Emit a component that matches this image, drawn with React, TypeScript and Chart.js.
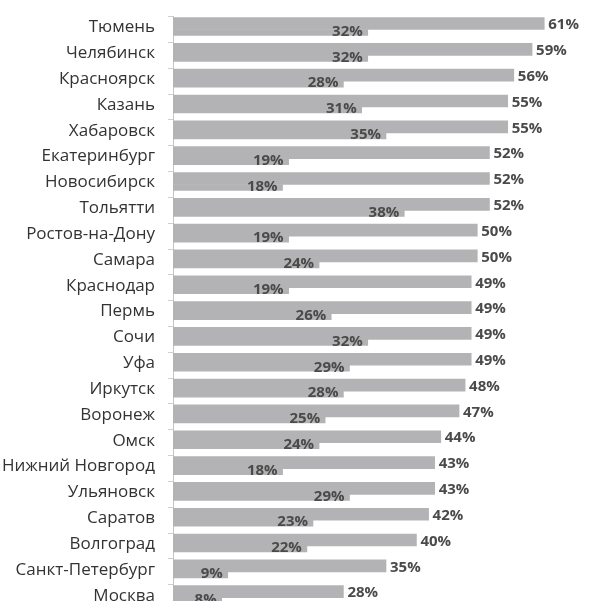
import React, { useEffect, useRef } from "react";
import { Chart, registerables } from "chart.js";

Chart.register(...registerables);

const cities: string[] = [
  "Тюмень", "Челябинск", "Красноярск", "Казань", "Хабаровск", "Екатеринбург",
  "Новосибирск", "Тольятти", "Ростов-на-Дону", "Самара", "Краснодар", "Пермь",
  "Сочи", "Уфа", "Иркутск", "Воронеж", "Омск", "Нижний Новгород", "Ульяновск",
  "Саратов", "Волгоград", "Санкт-Петербург", "Москва",
];
const upperValues: number[] = [61, 59, 56, 55, 55, 52, 52, 52, 50, 50, 49, 49, 49, 49, 48, 47, 44, 43, 43, 42, 40, 35, 28];
const lowerValues: number[] = [32, 32, 28, 31, 35, 19, 18, 38, 19, 24, 19, 26, 32, 29, 28, 25, 24, 18, 29, 23, 22, 9, 8];

const BAR = "#b3b3b5";
const LABEL_FONT = "'Open Sans', 'Noto Sans', sans-serif";

const valueLabels = {
  id: "valueLabels",
  afterDatasetsDraw(chart: any) {
    const ctx = chart.ctx;
    ctx.save();
    ctx.font = `bold 15px ${LABEL_FONT}`;
    ctx.fillStyle = "#4a4a4a";
    ctx.textBaseline = "middle";
    chart.data.datasets.forEach((ds: any, di: number) => {
      const meta = chart.getDatasetMeta(di);
      meta.data.forEach((el: any, i: number) => {
        const txt = ds.data[i] + "%";
        if (di === 0) {
          ctx.textAlign = "left";
          ctx.fillText(txt, el.x + 4, el.y + 1.5);
        } else {
          ctx.textAlign = "right";
          ctx.fillText(txt, el.x - 5, el.y - 1);
        }
      });
    });
    ctx.restore();
  },
};

export default function App() {
  const ref = useRef<HTMLCanvasElement>(null);
  useEffect(() => {
    if (!ref.current) return;
    const chart = new Chart(ref.current, {
      type: "bar",
      data: {
        labels: cities,
        datasets: [
          { data: upperValues, backgroundColor: BAR, barThickness: 12, borderWidth: 0 },
          { data: lowerValues, backgroundColor: BAR, barThickness: 6, borderWidth: 0 },
        ],
      },
      options: {
        indexAxis: "y",
        responsive: false,
        animation: false,
        layout: { padding: { top: 16.6, bottom: 1.4, left: 0, right: 0 } },
        plugins: { legend: { display: false }, tooltip: { enabled: false } },
        scales: {
          x: { display: false, min: 0, max: 70 },
          y: {
            afterFit: (s: any) => { s.width = 173; s.paddingTop = 0; s.paddingBottom = 0; },
            grid: { offset: true, drawOnChartArea: false, drawTicks: true, tickLength: 5, color: "#cfcfcf" },
            border: { display: true, color: "#c4c4c4" },
            ticks: {
              padding: 13,
              labelOffset: -2,
              color: "#333333",
              font: { family: LABEL_FONT, size: 17 },
              autoSkip: false,
            },
          },
        },
      },
      plugins: [valueLabels],
    });
    return () => chart.destroy();
  }, []);
  return (
    <div style={{ position: "fixed", left: 0, top: 0, width: 599, height: 601, overflow: "hidden", background: "#fff" }}>
      <canvas ref={ref} width={599} height={612} style={{ display: "block" }} />
    </div>
  );
}
